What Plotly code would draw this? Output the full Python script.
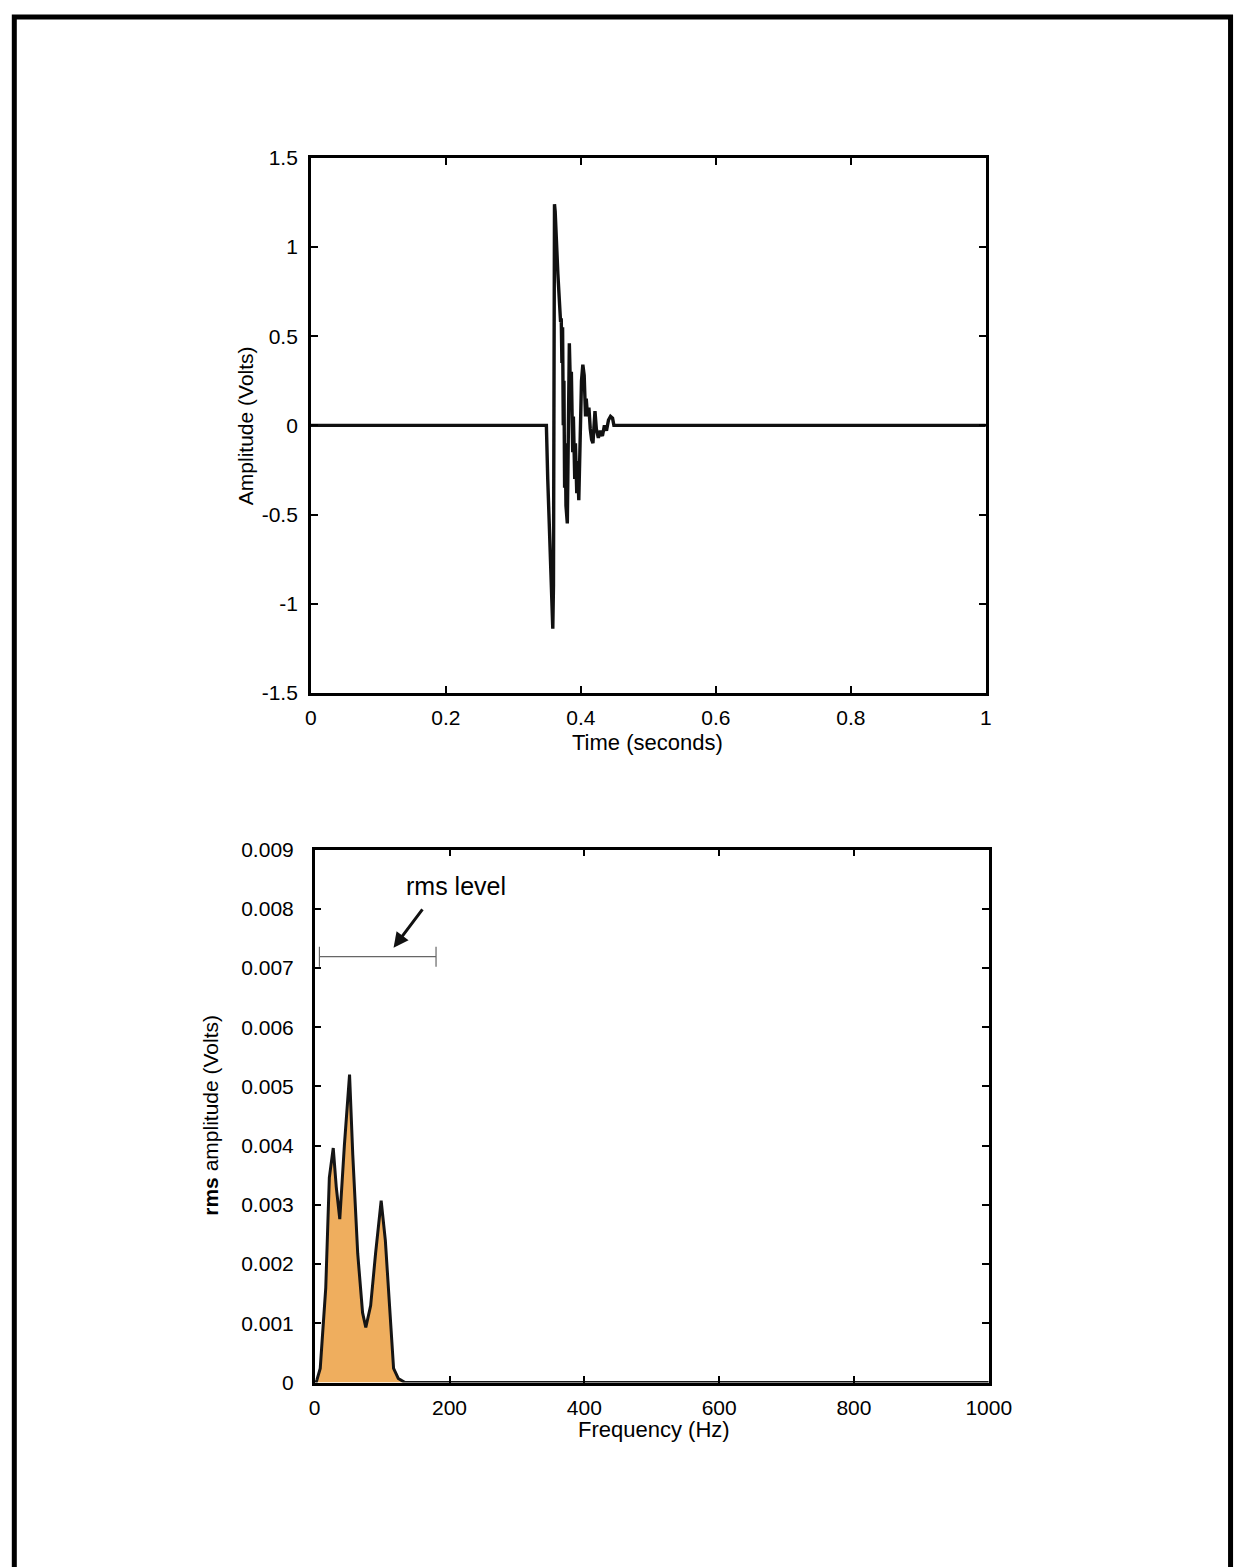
import plotly.graph_objects as go

W, H = 1256, 1567

# ---- Top panel: time-domain signal ----
time_s = [0.0, 0.349, 0.351, 0.353, 0.355, 0.357, 0.3585, 0.3595, 0.361, 0.362, 0.366, 0.369,
          0.370, 0.371, 0.372, 0.373, 0.374, 0.375, 0.376, 0.377, 0.378, 0.380, 0.381, 0.382,
          0.383, 0.385, 0.386, 0.388, 0.389, 0.391, 0.392, 0.394, 0.395, 0.397, 0.399, 0.401,
          0.403, 0.405, 0.407, 0.408, 0.410, 0.412, 0.414, 0.416, 0.418, 0.420, 0.421, 0.423,
          0.426, 0.429, 0.432, 0.435, 0.438, 0.441, 0.444, 0.447, 0.449, 0.452, 1.0]
amp_v = [0.0, 0.0, -0.3, -0.55, -0.75, -1.0, -1.14, -0.9, 1.24, 1.2, 0.85, 0.62,
         0.58, 0.60, 0.35, 0.55, 0.0, 0.25, -0.35, -0.1, -0.45, -0.55, 0.0, 0.2,
         0.46, 0.15, 0.3, -0.15, 0.05, -0.3, -0.1, -0.38, -0.2, -0.42, -0.1, 0.25,
         0.34, 0.28, 0.05, 0.15, 0.05, 0.10, -0.02, -0.08, -0.1, 0.04, 0.08, -0.02,
         -0.07, -0.03, -0.06, 0.0, -0.03, 0.03, 0.05, 0.04, 0.0, 0.0, 0.0]

top_xticks = [0, 0.2, 0.4, 0.6, 0.8, 1]
top_xlabels = ["0", "0.2", "0.4", "0.6", "0.8", "1"]
top_yticks = [-1.5, -1, -0.5, 0, 0.5, 1, 1.5]
top_ylabels = ["-1.5", "-1", "-0.5", "0", "0.5", "1", "1.5"]

# ---- Bottom panel: spectrum ----
freq_hz = [0, 2, 3.4, 8.2, 16.4, 19.3, 21.7, 27.5, 32, 37.2, 44, 51.7, 56.5, 63.8, 71, 75.8,
           83, 90.3, 98.6, 104.8, 112, 117, 124, 134, 1000]
rms_amp = [0, 0, 0.00005, 0.00024, 0.0016, 0.00273, 0.00346, 0.00396, 0.0033, 0.00276, 0.0040,
           0.0052, 0.00384, 0.00218, 0.00118, 0.00093, 0.0013, 0.00218, 0.00307, 0.0024,
           0.00107, 0.00024, 0.00007, 0.0, 0.0]

bot_xticks = [0, 200, 400, 600, 800, 1000]
bot_xlabels = ["0", "200", "400", "600", "800", "1000"]
bot_yticks = [0, 0.001, 0.002, 0.003, 0.004, 0.005, 0.006, 0.007, 0.008, 0.009]
bot_ylabels = ["0", "0.001", "0.002", "0.003", "0.004", "0.005", "0.006", "0.007", "0.008", "0.009"]

rms_level = 0.00719
rms_band = [7, 180]
arrow_tip = (117, 0.00734)
label_pos = (209, 0.00839)

FONT = "Liberation Sans, Arial, Helvetica, sans-serif"

fig = go.Figure()
fig.add_trace(go.Scatter(x=time_s, y=amp_v, mode="lines",
                         line=dict(color="#111111", width=3.4), xaxis="x", yaxis="y",
                         showlegend=False, hoverinfo="skip"))
fig.add_trace(go.Scatter(x=freq_hz, y=rms_amp, mode="lines", fill="tozeroy",
                         fillcolor="#EFAE5E", line=dict(color="#151515", width=3),
                         xaxis="x2", yaxis="y2", showlegend=False, hoverinfo="skip"))
center = (rms_band[0] + rms_band[1]) / 2
half = (rms_band[1] - rms_band[0]) / 2
fig.add_trace(go.Scatter(x=[center], y=[rms_level], mode="markers",
                         marker=dict(size=1, color="rgba(0,0,0,0)"),
                         error_x=dict(type="data", array=[half], color="#666666",
                                      thickness=1.2, width=10),
                         xaxis="x2", yaxis="y2", showlegend=False, hoverinfo="skip"))

axis_common = dict(showline=True, linecolor="black", linewidth=2.5, mirror="ticks",
                   ticks="inside", ticklen=7, tickwidth=2, tickcolor="black",
                   showgrid=False, zeroline=False,
                   tickfont=dict(family=FONT, size=21, color="black"))

fig.update_layout(
    width=W, height=H,
    margin=dict(l=0, r=0, t=0, b=0),
    paper_bgcolor="white", plot_bgcolor="white",
    font=dict(family=FONT, color="black"),
    xaxis=dict(domain=[312 / W, 1003 / W], range=[0, 1], anchor="y",
               tickvals=top_xticks, ticktext=top_xlabels, ticklabelstandoff=4, **axis_common),
    yaxis=dict(domain=[1 - 691 / H, 1 - 148 / H], range=[-1.5, 1.5], anchor="x",
               tickvals=top_yticks, ticktext=top_ylabels, ticklabelstandoff=6, **axis_common),
    xaxis2=dict(domain=[316 / W, 1006 / W], range=[0, 1000], anchor="y2",
                tickvals=bot_xticks, ticktext=bot_xlabels, ticklabelstandoff=4, **axis_common),
    yaxis2=dict(domain=[1 - 1391 / H, 1 - 850 / H], range=[0, 0.009], anchor="x2",
                tickvals=bot_yticks, ticktext=bot_ylabels, ticklabelstandoff=14, **axis_common),
)

def title(x, y, text, size=22, angle=0):
    fig.add_annotation(x=x / W, y=1 - y / H, xref="paper", yref="paper",
                       xanchor="center", yanchor="middle",
                       text=text, showarrow=False, textangle=angle,
                       font=dict(family=FONT, size=size, color="black"))

title(657, 741, "Time (seconds)")
title(246, 420, "Amplitude (Volts)", size=21, angle=-90)
title(663, 1439, "Frequency (Hz)")
title(209, 1120, "<b>rms</b> amplitude (Volts)", size=21, angle=-90)

fig.add_annotation(x=label_pos[0], y=label_pos[1], xref="x2", yref="y2",
                   xanchor="center", yanchor="middle",
                   text="rms level", showarrow=False,
                   font=dict(family=FONT, size=25, color="black"))
fig.add_annotation(x=arrow_tip[0], y=arrow_tip[1], xref="x2", yref="y2",
                   text="", showarrow=True, ax=30, ay=-40,
                   arrowhead=2, arrowsize=1, arrowwidth=3, arrowcolor="#111111")

fig.add_shape(type="rect", xref="paper", yref="paper",
              x0=8.5 / W, x1=1253.5 / W, y0=-0.02, y1=1 - 5 / H,
              line=dict(color="black", width=5))

fig.write_html("out.html")
